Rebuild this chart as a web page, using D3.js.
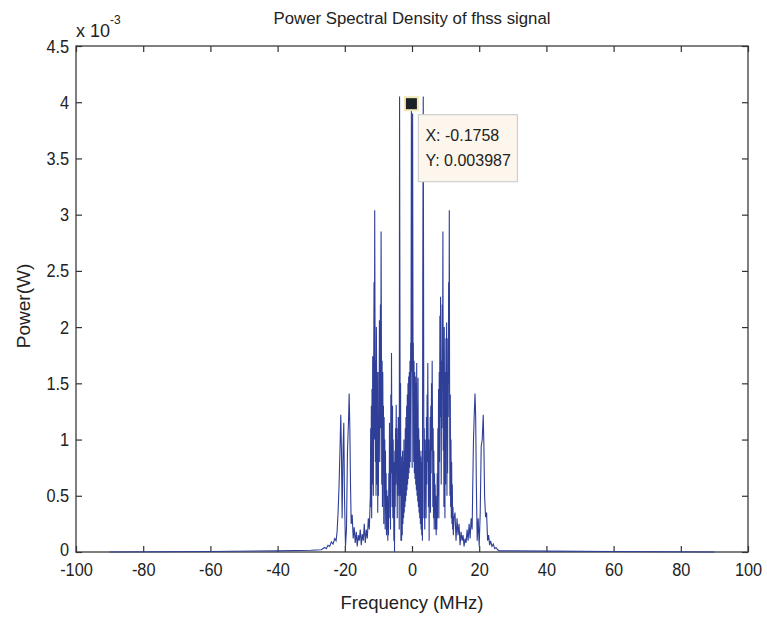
<!DOCTYPE html>
<html>
<head>
<meta charset="utf-8">
<script src="https://cdn.jsdelivr.net/npm/d3@7.9.0/dist/d3.min.js"></script>
<style>
  body { margin: 0; background: #fff; }
  svg text { font-family: "Liberation Sans", Arial, sans-serif; fill: #222; }
</style>
</head>
<body>
<svg id="chart" width="767" height="617"></svg>
<script>
// axis ticks
const xTicks = [-100, -80, -60, -40, -20, 0, 20, 40, 60, 80, 100];
const yTicks = [0, 0.5, 1, 1.5, 2, 2.5, 3, 3.5, 4, 4.5];

// PSD: [frequency MHz, power in units of 1e-3 W]
const psdLeft = [
  [-90, 0.0], [-60, 0.005], [-40, 0.01], [-30, 0.015], [-27, 0.02], [-26, 0.04], [-25.5, 0.03],
  [-25, 0.06], [-24.5, 0.05], [-24, 0.09], [-23.5, 0.07], [-23, 0.12], [-22.6, 0.1], [-22.3, 0.18],
  [-22, 0.35], [-21.7, 0.6], [-21.4, 0.95], [-21.2, 1.22], [-21.0, 0.9], [-20.8, 0.3], [-20.5, 0.94],
  [-20.3, 1.15], [-20.1, 0.5], [-19.8, 0.05], [-19.5, 0.2], [-19.2, 0.9], [-18.9, 1.16], [-18.7, 1.41],
  [-18.5, 1.1], [-18.3, 0.6], [-18.1, 0.25], [-17.8, 0.33], [-17.5, 0.12], [-17.2, 0.22], [-16.9, 0.08],
  [-16.6, 0.18], [-16.3, 0.05], [-16.0, 0.15], [-15.7, 0.1], [-15.4, 0.2], [-15.1, 0.06], [-14.8, 0.16],
  [-14.5, 0.1], [-14.2, 0.25], [-13.9, 0.08], [-13.6, 0.2], [-13.3, 0.12], [-13.0, 0.3], [-12.7, 0.2],
  [-12.4, 0.5], [-12.3, 1.1], [-12.2, 0.4], [-12.1, 1.3], [-12.0, 0.3], [-11.9, 1.45], [-11.8, 0.6],
  [-11.7, 1.74], [-11.6, 1.2], [-11.5, 0.5], [-11.4, 1.6], [-11.3, 2.4], [-11.2, 1.0], [-11.1, 3.04],
  [-11.0, 1.9], [-10.9, 0.8], [-10.8, 1.7], [-10.7, 0.5], [-10.6, 2.0], [-10.5, 1.4], [-10.4, 0.6],
  [-10.3, 1.6], [-10.2, 0.35], [-10.1, 1.2], [-10.0, 0.5], [-9.9, 1.6], [-9.8, 1.0], [-9.7, 2.06],
  [-9.6, 0.8], [-9.5, 1.4], [-9.4, 2.2], [-9.3, 1.1], [-9.2, 2.85], [-9.1, 1.8], [-9.0, 0.6],
  [-8.9, 1.7], [-8.8, 0.4], [-8.7, 1.6], [-8.6, 0.9], [-8.5, 1.3], [-8.4, 0.25], [-8.3, 1.2],
  [-8.2, 0.6], [-8.1, 1.0], [-8.0, 0.2], [-7.9, 0.9], [-7.8, 0.4], [-7.7, 0.7], [-7.6, 0.15],
  [-7.5, 0.55], [-7.4, 0.2], [-7.3, 0.5], [-7.2, 0.1], [-7.1, 0.45], [-7.0, 0.15],
  [-6.9, 0.7], [-6.8, 0.3], [-6.7, 1.15], [-6.6, 0.5], [-6.5, 0.9], [-6.4, 0.2], [-6.3, 1.4],
  [-6.2, 0.7], [-6.1, 1.77], [-6.0, 1.0], [-5.9, 0.4], [-5.8, 1.3], [-5.7, 0.3], [-5.6, 1.0],
  [-5.5, 0.6], [-5.4, 0.1], [-5.3, 0.8], [-5.2, 0.0], [-5.1, 0.9], [-5.0, 0.4], [-4.9, 1.1],
  [-4.8, 0.6], [-4.7, 1.31], [-4.6, 0.8], [-4.5, 1.1], [-4.4, 0.3], [-4.3, 1.0], [-4.2, 0.5],
  [-4.1, 1.2], [-4.0, 0.6], [-3.9, 0.9], [-3.8, 0.2], [-3.7, 4.05], [-3.6, 2.3], [-3.5, 0.5],
  [-3.4, 1.5], [-3.3, 0.1]
];
const psdCenter = [
  [-3.2, 0.7], [-3.1, 0.1], [-3.0, 0.85], [-2.9, 0.15], [-2.8, 0.9], [-2.7, 0.25], [-2.6, 0.8],
  [-2.5, 0.3], [-2.4, 1.0], [-2.3, 0.35], [-2.2, 0.9], [-2.1, 0.4], [-2.0, 1.1], [-1.9, 0.45],
  [-1.8, 1.2], [-1.7, 0.5], [-1.6, 1.3], [-1.5, 0.55], [-1.4, 1.4], [-1.3, 0.6], [-1.2, 1.5],
  [-1.1, 0.65], [-1.0, 1.56], [-0.9, 0.7], [-0.8, 1.6], [-0.7, 0.75], [-0.6, 1.7], [-0.5, 0.8],
  [-0.4, 1.86], [-0.3, 1.6], [-0.18, 3.987], [-0.05, 1.7], [0.05, 0.75], [0.18, 3.9], [0.3, 1.8],
  [0.4, 1.86], [0.5, 0.8], [0.6, 1.7], [0.7, 0.7], [0.8, 1.6], [0.9, 0.65], [1.0, 1.56],
  [1.1, 0.6], [1.2, 1.5], [1.3, 0.55], [1.4, 1.68], [1.5, 0.5], [1.6, 1.3], [1.7, 0.45],
  [1.8, 1.55], [1.9, 0.4], [2.0, 1.1], [2.1, 0.35], [2.2, 1.0], [2.3, 0.3], [2.4, 0.9],
  [2.5, 0.25], [2.6, 0.85], [2.7, 0.2], [2.8, 0.8], [2.9, 0.15], [3.0, 0.9], [3.1, 0.1],
  [3.2, 2.39], [3.35, 4.05], [3.45, 2.3], [3.55, 0.3], [3.65, 1.1]
];
const psdRight = [
  [3.8, 0.2], [3.9, 1.0], [4.0, 0.5], [4.1, 0.9], [4.2, 0.3], [4.3, 1.2], [4.4, 0.6],
  [4.5, 1.4], [4.6, 0.8], [4.7, 1.68], [4.8, 1.1], [4.9, 0.4], [5.0, 1.0], [5.1, 0.1],
  [5.2, 0.9], [5.3, 0.5], [5.4, 1.2], [5.5, 0.35], [5.6, 1.3], [5.7, 0.7], [5.8, 1.5],
  [5.9, 0.9], [6.0, 1.7], [6.1, 1.2], [6.2, 0.4], [6.3, 1.1], [6.4, 0.3], [6.5, 0.9],
  [6.6, 0.2], [6.7, 0.7], [6.8, 0.35], [6.9, 0.6], [7.0, 0.2], [7.1, 0.5], [7.2, 0.15],
  [7.3, 0.45], [7.4, 0.2], [7.5, 0.7], [7.6, 0.3], [7.7, 1.1], [7.8, 0.5], [7.9, 1.45],
  [8.0, 0.3], [8.1, 1.6], [8.2, 0.8], [8.3, 2.1], [8.4, 1.2], [8.5, 2.27], [8.6, 1.4],
  [8.7, 0.6], [8.8, 1.7], [8.9, 1.1], [9.0, 2.2], [9.1, 1.7], [9.2, 2.85], [9.3, 0.9],
  [9.4, 1.5], [9.5, 0.4], [9.6, 2.0], [9.7, 1.2], [9.8, 0.3], [9.9, 1.6], [10.0, 0.6],
  [10.1, 1.9], [10.2, 1.0], [10.3, 2.04], [10.4, 0.5], [10.5, 1.6], [10.6, 0.7], [10.7, 1.9],
  [10.8, 1.2], [10.9, 2.4], [11.0, 1.5], [11.1, 3.04], [11.2, 1.3], [11.3, 0.5], [11.4, 1.4],
  [11.5, 0.4], [11.6, 1.0], [11.7, 0.3], [11.8, 0.8], [11.9, 0.25], [12.0, 0.6], [12.1, 0.2],
  [12.2, 0.4], [12.3, 0.15], [12.5, 0.3], [12.8, 0.35], [13.1, 0.1], [13.4, 0.3], [13.7, 0.15],
  [14.0, 0.25], [14.3, 0.06], [14.6, 0.18], [14.9, 0.1], [15.2, 0.15], [15.5, 0.05], [15.8, 0.12],
  [16.1, 0.08], [16.4, 0.2], [16.7, 0.1], [17.0, 0.25], [17.3, 0.12], [17.6, 0.3], [17.9, 0.2],
  [18.1, 0.63], [18.3, 1.0], [18.5, 1.2], [18.75, 1.41], [18.95, 1.2], [19.15, 0.6], [19.4, 0.1],
  [19.7, 0.3], [20.0, 0.05], [20.3, 0.35], [20.6, 0.94], [20.9, 1.0], [21.2, 1.22], [21.4, 0.94],
  [21.6, 0.5], [21.9, 0.31], [22.2, 0.35], [22.5, 0.1], [22.8, 0.15], [23.1, 0.06], [23.4, 0.1],
  [23.8, 0.05], [24.2, 0.07], [24.6, 0.03], [25, 0.04], [25.5, 0.02], [26, 0.01], [30, 0.01],
  [40, 0.008], [60, 0.005], [90, 0.0]
];

// data tip
const tipX = -0.1758;
const tipY = 3.987;

const width = 767, height = 617;
const margin = { top: 46, right: 19, bottom: 65, left: 76 };
const svg = d3.select('#chart');

const x = d3.scaleLinear().domain([-100, 100]).range([margin.left, width - margin.right]);
const y = d3.scaleLinear().domain([0, 4.5]).range([height - margin.bottom, margin.top]);

const psd = psdLeft.concat(psdCenter, psdRight);

// box
svg.append('rect')
  .attr('x', margin.left).attr('y', margin.top)
  .attr('width', width - margin.left - margin.right)
  .attr('height', height - margin.top - margin.bottom)
  .attr('fill', 'none')
  .attr('stroke', '#555')
  .attr('stroke-width', 1.5);

// axes, matlab style ticks pointing in
const gx = svg.append('g')
  .attr('transform', `translate(0,${height - margin.bottom})`)
  .call(d3.axisBottom(x).tickValues(xTicks).tickSize(-6).tickPadding(11).tickFormat(d => String(d)));
const gxTop = svg.append('g')
  .attr('transform', `translate(0,${margin.top})`)
  .call(d3.axisTop(x).tickValues(xTicks).tickSize(-6).tickFormat(''));
const gy = svg.append('g')
  .attr('transform', `translate(${margin.left},0)`)
  .call(d3.axisLeft(y).tickValues(yTicks).tickSize(-6).tickPadding(8).tickFormat(d => String(d)));
const gyRight = svg.append('g')
  .attr('transform', `translate(${width - margin.right},0)`)
  .call(d3.axisRight(y).tickValues(yTicks).tickSize(-6).tickFormat(''));

[gx, gxTop, gy, gyRight].forEach(g => {
  g.select('.domain').remove();
  g.selectAll('.tick line').attr('stroke', '#333').attr('stroke-width', 1.2);
  g.selectAll('.tick text').attr('font-size', 19).attr('fill', '#222')
    .attr('font-family', '"Liberation Sans", Arial, sans-serif')
    .attr('transform', 'scale(0.86,1)');
});
// nudge the y "0" label up a little so it clears "-100"
gy.selectAll('.tick text').filter(d => d === 0).attr('dy', '0.2em');

// the trace
svg.append('path')
  .datum(psd)
  .attr('fill', 'none')
  .attr('stroke', '#2f3f98')
  .attr('stroke-width', 1.1)
  .attr('d', d3.line().x(d => x(d[0])).y(d => y(d[1])));

// exponent label
const expo = svg.append('text').attr('x', margin.left).attr('y', 37).attr('font-size', 18);
expo.append('tspan').text('x 10');
expo.append('tspan').attr('dy', -13).attr('font-size', 12).text('-3');

// title and axis labels
svg.append('text')
  .attr('x', (margin.left + width - margin.right) / 2).attr('y', 24)
  .attr('text-anchor', 'middle').attr('font-size', 16.8)
  .text('Power Spectral Density of fhss signal');
svg.append('text')
  .attr('x', (margin.left + width - margin.right) / 2).attr('y', 609)
  .attr('text-anchor', 'middle').attr('font-size', 18.5)
  .text('Frequency (MHz)');
svg.append('text')
  .attr('transform', `translate(30,${(margin.top + height - margin.bottom) / 2 + 7}) rotate(-90)`)
  .attr('text-anchor', 'middle').attr('font-size', 19)
  .text('Power(W)');

// data tip marker and box
const tx = x(tipX), ty = y(tipY);
svg.append('rect')
  .attr('x', tx - 6.5).attr('y', ty - 6.5).attr('width', 13).attr('height', 13)
  .attr('fill', '#1b2326').attr('stroke', '#f3e9b8').attr('stroke-width', 2);
const tip = svg.append('g').attr('transform', `translate(${tx + 7},${ty + 11})`);
tip.append('rect')
  .attr('width', 99).attr('height', 67)
  .attr('fill', '#fdf6ec').attr('stroke', '#cfcfcf').attr('stroke-width', 1.2);
tip.append('text').attr('x', 7).attr('y', 26).attr('font-size', 16).attr('fill', '#333')
  .text(`X: ${tipX}`);
tip.append('text').attr('x', 7).attr('y', 51).attr('font-size', 16).attr('fill', '#333')
  .text(`Y: ${(tipY / 1000).toFixed(6)}`);
</script>
</body>
</html>
